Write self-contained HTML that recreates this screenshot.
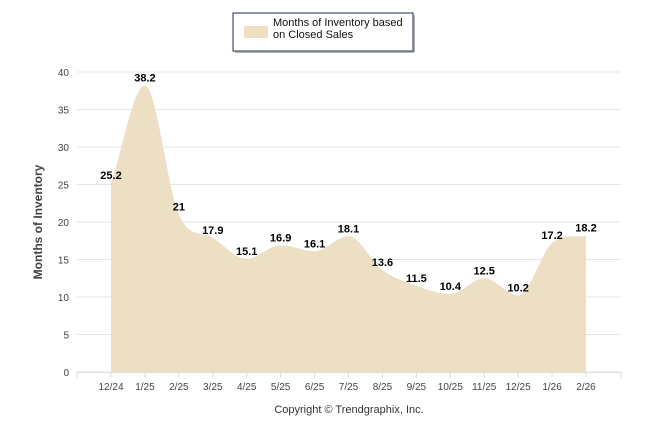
<!DOCTYPE html>
<html><head><meta charset="utf-8"><style>
body{margin:0;background:#fff;width:646px;height:434px;overflow:hidden;font-family:"Liberation Sans",sans-serif}
</style></head><body>
<svg width="646" height="434" id="c" style="position:absolute;left:0;top:0">
<rect x="233" y="13" width="180" height="38" fill="#fff" stroke="#1f2d4d" stroke-width="1"/>
<line x1="235" y1="52" x2="414" y2="52" stroke="#999" stroke-width="1.5"/>
<line x1="414" y1="15" x2="414" y2="52" stroke="#999" stroke-width="1.5"/>
<rect x="244" y="26" width="24" height="12" fill="#ecdfc4"/>
<text x="273" y="26" font-size="11" fill="#111">Months of Inventory based</text>
<text x="273" y="38" font-size="11" fill="#111">on Closed Sales</text>
<text transform="translate(42,222) rotate(-90)" text-anchor="middle" font-size="12" font-weight="bold" fill="#444">Months of Inventory</text>
<text x="349" y="413" text-anchor="middle" font-size="11" fill="#333">Copyright © Trendgraphix, Inc.</text>
<g id="g"></g>
</svg>
<script>
const categories=["12/24","1/25","2/25","3/25","4/25","5/25","6/25","7/25","8/25","9/25","10/25","11/25","12/25","1/26","2/26"];
const values=[25.2,38.2,21,17.9,15.1,16.9,16.1,18.1,13.6,11.5,10.4,12.5,10.2,17.2,18.2];
const yTicks=[0,5,10,15,20,25,30,35,40];
const X0=111,STEP=(586-111)/14,L=77,R=621;
const xs=i=>X0+i*STEP, ys=v=>372-v*7.5;
const g=document.getElementById('g'),NS="http://www.w3.org/2000/svg";
function mk(t,a){const e=document.createElementNS(NS,t);for(const k in a)e.setAttribute(k,a[k]);g.appendChild(e);return e;}
yTicks.forEach(t=>{
 const l=mk('line',{x1:L,x2:R,y1:ys(t),y2:ys(t),stroke:'#e6e6e6'});
 
 
 const tx=mk('text',{x:69,y:ys(t)+4,'text-anchor':'end','font-size':10,fill:'#444'});tx.textContent=t;
 
 
});
// area path with monotone cubic
const P=values.map((v,i)=>[xs(i),ys(v)]);
const n=P.length,d=[],m=[];
for(let i=0;i<n-1;i++)d.push((P[i+1][1]-P[i][1])/(P[i+1][0]-P[i][0]));
for(let i=0;i<n;i++){if(i==0)m.push(d[0]);else if(i==n-1)m.push(d[n-2]);else m.push(d[i-1]*d[i]<=0?0:(d[i-1]+d[i])/2);}
let s=`M${P[0][0]},372 L${P[0][0]},${P[0][1]}`;
for(let i=0;i<n-1;i++){const h=(P[i+1][0]-P[i][0])/3;s+=` C${P[i][0]+h},${P[i][1]+m[i]*h} ${P[i+1][0]-h},${P[i+1][1]-m[i+1]*h} ${P[i+1][0]},${P[i+1][1]}`;}
s+=` L${P[n-1][0]},372 Z`;
const a=mk('path',{d:s,fill:'#ecdfc4'});


mk('line',{x1:L,x2:R,y1:372.5,y2:372.5,stroke:'#ddd'});
[L,R].forEach(x=>mk('line',{x1:x,x2:x,y1:372,y2:378,stroke:'#ddd'}));
categories.forEach((c,i)=>{
 mk('line',{x1:xs(i),x2:xs(i),y1:372,y2:378,stroke:'#ddd'});
 const t=mk('text',{x:xs(i),y:390,'text-anchor':'middle','font-size':10,fill:'#444'});t.textContent=c;
 
 
 const v=mk('text',{x:xs(i),y:ys(values[i])-4,'text-anchor':'middle','font-size':11,'font-weight':'bold',fill:'#000'});v.textContent=values[i];
 
 
});
</script>
</body></html>
